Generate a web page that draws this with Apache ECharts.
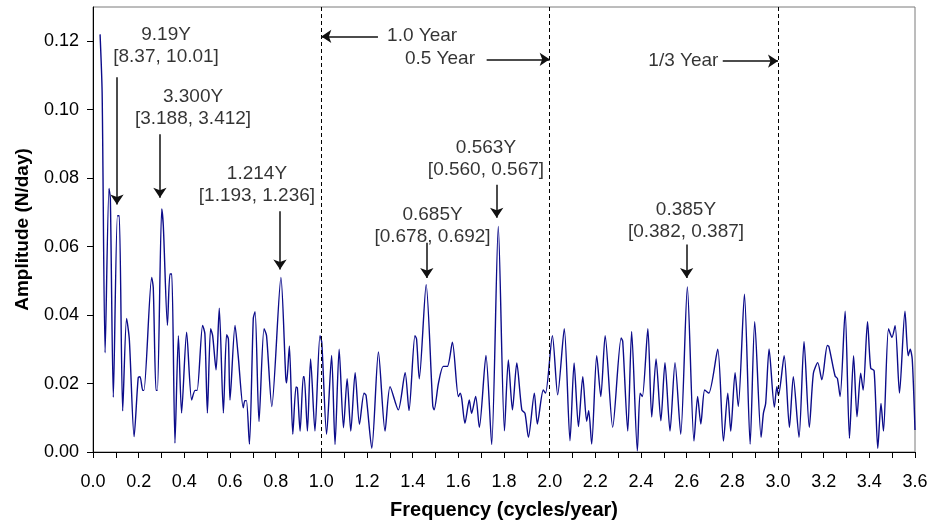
<!DOCTYPE html>
<html><head><meta charset="utf-8">
<script src="https://cdn.jsdelivr.net/npm/echarts@6/dist/echarts.min.js"></script>
<style>html,body{margin:0;padding:0;background:#fff}#c{width:933px;height:523px}</style>
</head><body><div id="c"></div>
<script>
// Spectrum (frequency in cycles/year, amplitude in N/day)
const freq = [
0.031,0.040,0.053,0.070,0.076,0.089,0.107,0.115,0.130,0.147,0.159,0.180,0.198,0.206,0.218,0.223,
0.257,0.264,0.276,0.282,0.301,0.308,0.326,0.337,0.345,0.359,0.374,0.388,0.410,0.432,0.447,0.456,
0.480,0.490,0.501,0.515,0.524,0.539,0.553,0.571,0.585,0.593,0.600,0.622,0.636,0.658,0.665,0.672,
0.685,0.702,0.710,0.727,0.749,0.760,0.783,0.823,0.844,0.848,0.860,0.875,0.889,0.895,0.907,0.921,
0.925,0.939,0.953,0.972,0.994,1.002,1.023,1.045,1.060,1.078,1.097,1.113,1.129,1.148,1.167,1.187,
1.196,1.221,1.250,1.279,1.301,1.337,1.367,1.384,1.410,1.417,1.429,1.459,1.488,1.494,1.513,1.534,
1.552,1.574,1.600,1.608,1.615,1.629,1.648,1.658,1.676,1.692,1.721,1.746,1.775,1.802,1.819,1.837,
1.856,1.878,1.892,1.907,1.933,1.946,1.972,1.982,2.012,2.035,2.064,2.089,2.107,2.126,2.145,2.162,
2.171,2.184,2.206,2.224,2.243,2.276,2.313,2.320,2.342,2.359,2.384,2.396,2.406,2.430,2.447,2.466,
2.487,2.505,2.527,2.549,2.574,2.603,2.632,2.648,2.662,2.679,2.697,2.736,2.761,2.780,2.793,2.812,
2.826,2.853,2.878,2.898,2.926,2.936,2.946,2.961,2.984,2.995,3.002,3.027,3.050,3.067,3.092,3.114,
3.137,3.155,3.174,3.192,3.216,3.223,3.250,3.260,3.272,3.294,3.313,3.331,3.346,3.362,3.373,3.392,
3.406,3.421,3.437,3.451,3.462,3.484,3.499,3.513,3.532,3.556,3.570,3.579,3.588,3.600
];
const amp = [
0.122,0.105,0.029,0.077,0.074,0.016,0.069,0.069,0.012,0.039,0.033,0.0045,0.0217,0.022,0.018,0.018,
0.051,0.048,0.018,0.018,0.071,0.066,0.037,0.052,0.052,0.0026,0.034,0.0114,0.035,0.0152,0.018,0.018,
0.037,0.0345,0.0114,0.036,0.034,0.024,0.042,0.0114,0.0343,0.033,0.0152,0.037,0.028,0.0129,0.015,0.015,
0.0023,0.039,0.041,0.0089,0.036,0.034,0.0133,0.051,0.022,0.0202,0.031,0.0052,0.019,0.0187,0.0061,0.022,
0.022,0.0061,0.0272,0.0061,0.034,0.032,0.0052,0.0282,0.0022,0.030,0.0071,0.0214,0.0061,0.0232,0.0081,0.0172,
0.0165,0.0011,0.0292,0.0061,0.0191,0.0123,0.0232,0.0121,0.034,0.033,0.0214,0.0489,0.0135,0.0123,0.0201,0.025,
0.025,0.0321,0.0162,0.0172,0.0155,0.0084,0.0152,0.0113,0.0162,0.0072,0.0282,0.0022,0.0659,0.0062,0.0269,0.0123,
0.026,0.0123,0.0113,0.0043,0.0172,0.0082,0.0181,0.0172,0.034,0.0167,0.036,0.0033,0.026,0.0074,0.022,0.0090,
0.0121,0.0023,0.0281,0.0162,0.034,0.0072,0.0333,0.0323,0.0061,0.0352,0.0003,0.0172,0.0162,0.036,0.0102,0.0272,
0.0091,0.0261,0.0061,0.0261,0.0052,0.0482,0.0032,0.0162,0.0082,0.0181,0.0172,0.030,0.0032,0.0172,0.0061,0.0232,
0.0133,0.0461,0.0023,0.0381,0.0043,0.0113,0.0142,0.0301,0.0131,0.0191,0.0165,0.0281,0.0072,0.022,0.0043,0.0323,
0.0072,0.023,0.0261,0.0211,0.0311,0.0308,0.0222,0.0215,0.0162,0.0411,0.004,0.0281,0.0103,0.023,0.0181,0.0381,
0.0245,0.0237,0.0011,0.0142,0.0061,0.036,0.0335,0.0369,0.0172,0.0411,0.0281,0.030,0.027,0.0064
];

// Axis ticks and labels
const xTicks = [0,0.1,0.2,0.3,0.4,0.5,0.6,0.7,0.8,0.9,1,1.1,1.2,1.3,1.4,1.5,1.6,1.7,1.8,1.9,2,2.1,2.2,2.3,2.4,2.5,2.6,2.7,2.8,2.9,3,3.1,3.2,3.3,3.4,3.5,3.6];
const xLabels = [0,0.2,0.4,0.6,0.8,1,1.2,1.4,1.6,1.8,2,2.2,2.4,2.6,2.8,3,3.2,3.4,3.6];
const yLabels = [0,0.02,0.04,0.06,0.08,0.10,0.12];

// Reference period lines
const yearLines = [1, 2, 3];
const yearText = ['1.0 Year', '0.5 Year', '1/3 Year'];
const yearTextFreq = [1.288, 1.673, 2.739];
const yearTextAmp = [0.1216, 0.1149, 0.1144];
const yearTextAlign = ['left', 'right', 'right'];
const yearArrowFrom = [1.248, 1.724, 2.758];
const yearArrowTo = [1.0, 2.0, 3.0];

// Peak annotations
const peakText = ['9.19Y\n[8.37, 10.01]', '3.300Y\n[3.188, 3.412]', '1.214Y\n[1.193, 1.236]',
                  '0.685Y\n[0.678, 0.692]', '0.563Y\n[0.560, 0.567]', '0.385Y\n[0.382, 0.387]'];
const peakTextFreq = [0.320, 0.438, 0.718, 1.487, 1.721, 2.597];
const peakTextAmp  = [0.1188, 0.1007, 0.0781, 0.0661, 0.0857, 0.0676];
const peakArrowFreq = [0.105, 0.293, 0.819, 1.462, 1.768, 2.600];
const peakArrowTop  = [0.1095, 0.0928, 0.0703, 0.0611, 0.0781, 0.0606];
const peakArrowTip  = [0.0723, 0.0743, 0.0533, 0.0508, 0.0684, 0.0508];

const FONT = "'Liberation Sans', Arial, Helvetica, sans-serif";
const chart = echarts.init(document.getElementById('c'), null, {renderer: 'canvas'});

const arrowSegs = [];
peakArrowFreq.forEach((f, i) => arrowSegs.push([{coord: [f, peakArrowTop[i]]}, {coord: [f, peakArrowTip[i]]}]));
yearArrowFrom.forEach((f, i) => {
  arrowSegs.push([{coord: [f, yearTextAmp[i] - 0.0002]}, {coord: [yearArrowTo[i], yearTextAmp[i] - 0.0002]}]);
});

const textData = [];
peakText.forEach((t, i) => textData.push({value: [peakTextFreq[i], peakTextAmp[i]], name: t, label: {align: 'center'}}));
yearText.forEach((t, i) => textData.push({value: [yearTextFreq[i], yearTextAmp[i]], name: t, label: {align: yearTextAlign[i]}}));

chart.setOption({
  animation: false,
  grid: {left: 93, right: 18, top: 7, bottom: 71, show: true, borderColor: '#7a7a7a', borderWidth: 1, containLabel: false, outerBoundsMode: 'none'},
  xAxis: {
    type: 'value', min: 0, max: 3.6, interval: 0.1,
    name: 'Frequency (cycles/year)', nameLocation: 'middle', nameGap: 48,
    nameTextStyle: {fontFamily: FONT, fontWeight: 'bold', fontSize: 20, color: '#000'},
    axisLine: {show: true, onZero: false, lineStyle: {color: '#000', width: 1}},
    axisTick: {show: true, inside: false, length: 6, customValues: xTicks, lineStyle: {color: '#000'}},
    axisLabel: {customValues: xLabels, margin: 21, fontFamily: FONT, fontSize: 18, color: '#000',
      formatter: v => v.toFixed(1)},
    splitLine: {show: false}
  },
  yAxis: {
    type: 'value', min: 0, max: 0.13, interval: 0.02,
    name: 'Amplitude (N/day)', nameLocation: 'middle', nameGap: 61, nameRotate: 90,
    nameTextStyle: {fontFamily: FONT, fontWeight: 'bold', fontSize: 19, color: '#000'},
    axisLine: {show: true, onZero: false, lineStyle: {color: '#000', width: 1}},
    axisTick: {show: true, inside: false, length: 6, customValues: yLabels, lineStyle: {color: '#000'}},
    axisLabel: {customValues: yLabels, margin: 14, fontFamily: FONT, fontSize: 18, color: '#000',
      formatter: v => v.toFixed(2)},
    splitLine: {show: false}
  },
  series: [
    {
      type: 'line', data: freq.map((f, i) => [f, amp[i]]),
      showSymbol: false, symbol: 'none', smooth: 0.25,
      lineStyle: {color: '#0c0c8a', width: 1.4},
      markLine: {
        silent: true, symbol: ['none', 'none'], label: {show: false},
        lineStyle: {color: '#000', type: [4, 3], width: 1},
        data: yearLines.map(v => ({xAxis: v}))
      },
      z: 3
    },
    {
      type: 'line', data: [],
      markLine: {
        silent: true, symbol: ['none', 'arrow'], symbolSize: 10, label: {show: false},
        itemStyle: {color: '#111'},
        lineStyle: {color: '#111', type: 'solid', width: 1.5},
        data: arrowSegs
      },
      z: 4
    },
    {
      type: 'scatter', data: textData, symbolSize: 0, silent: true,
      label: {show: true, position: [0, 0], formatter: '{b}', verticalAlign: 'middle',
        fontFamily: FONT, fontSize: 19, lineHeight: 22, color: '#000'},
      z: 5
    }
  ]
});
</script>
</body></html>
